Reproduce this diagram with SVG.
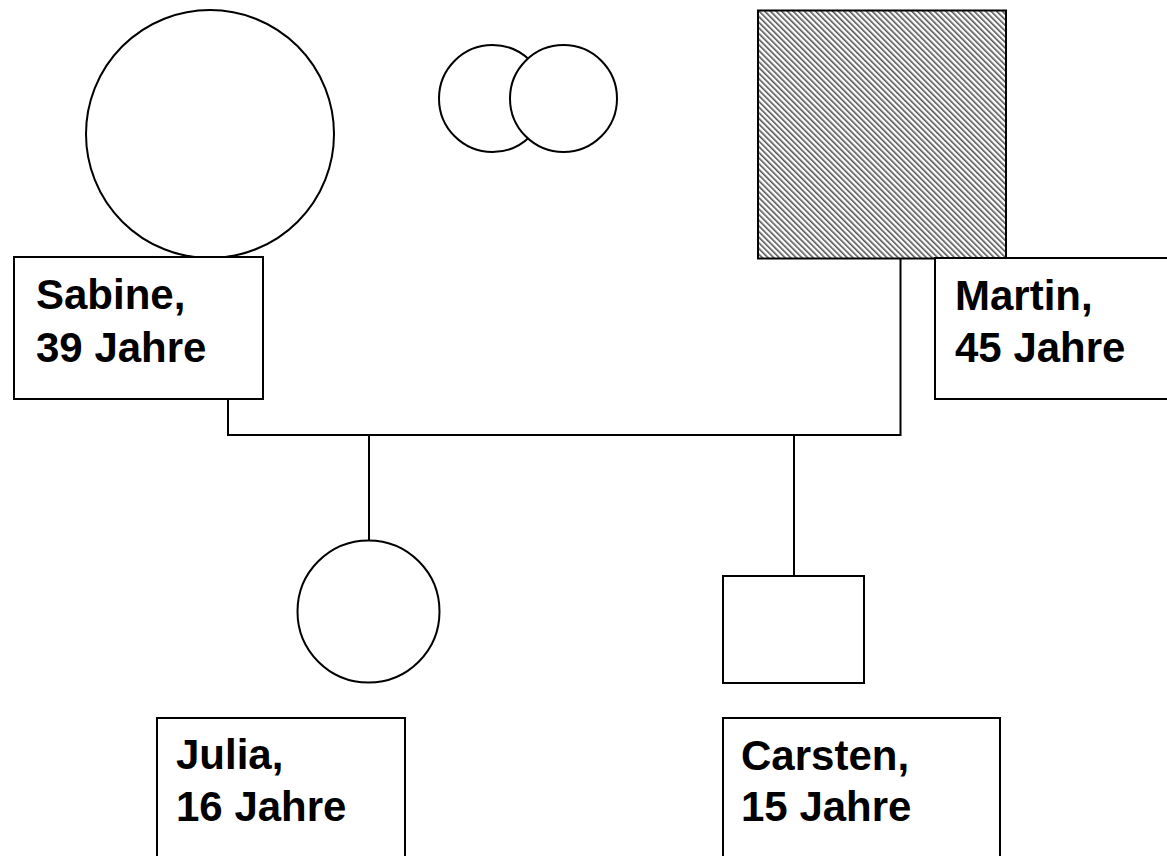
<svg xmlns="http://www.w3.org/2000/svg" width="1167" height="856" viewBox="0 0 1167 856">
<style>
.shape{fill:#fff;stroke:#000;stroke-width:2}
.box{fill:#fff;stroke:#000;stroke-width:2}
.con{fill:none;stroke:#000;stroke-width:2}
.lbl{font-family:"Liberation Sans",Arial,sans-serif;font-weight:bold;font-size:42px;fill:#000}
</style>
<defs>
<pattern id="hatch" patternUnits="userSpaceOnUse" width="4" height="4" patternTransform="rotate(-45)">
<rect x="0" y="0" width="4" height="4" fill="#fff"/>
<rect x="0" y="0" width="1.6" height="4" fill="#555"/>
</pattern>
</defs>
<rect width="1167" height="856" fill="#fff"/>
<g id="connectors">
<polyline class="con" points="228,399 228,435 900.5,435 900.5,258"/>
<line class="con" x1="369" y1="435" x2="369" y2="541"/>
<line class="con" x1="794" y1="435" x2="794" y2="576"/>
</g>
<g id="sabine">
<circle class="shape" cx="210" cy="134" r="124"/>
<rect class="box" x="14" y="257" width="249" height="142"/>
<text class="lbl" x="36" y="309">Sabine,</text>
<text class="lbl" x="36" y="362">39 Jahre</text>
</g>
<g id="twins">
<circle class="shape" cx="492.5" cy="98.5" r="53.5"/>
<circle class="shape" cx="563.5" cy="98.5" r="53.5"/>
</g>
<g id="martin">
<rect x="758" y="10.5" width="248" height="248" fill="url(#hatch)" stroke="#000" stroke-width="2"/>
<rect class="box" x="935" y="258" width="240" height="141"/>
<text class="lbl" x="955" y="310">Martin,</text>
<text class="lbl" x="955" y="362">45 Jahre</text>
</g>
<g id="julia">
<circle class="shape" cx="368.5" cy="611.5" r="71"/>
<rect class="box" x="157" y="718" width="248" height="150"/>
<text class="lbl" x="176" y="769">Julia,</text>
<text class="lbl" x="176" y="821">16 Jahre</text>
</g>
<g id="carsten">
<rect class="shape" x="723" y="576" width="141" height="107"/>
<rect class="box" x="723" y="718" width="277" height="150"/>
<text class="lbl" x="741" y="770">Carsten,</text>
<text class="lbl" x="741" y="821">15 Jahre</text>
</g>
</svg>
